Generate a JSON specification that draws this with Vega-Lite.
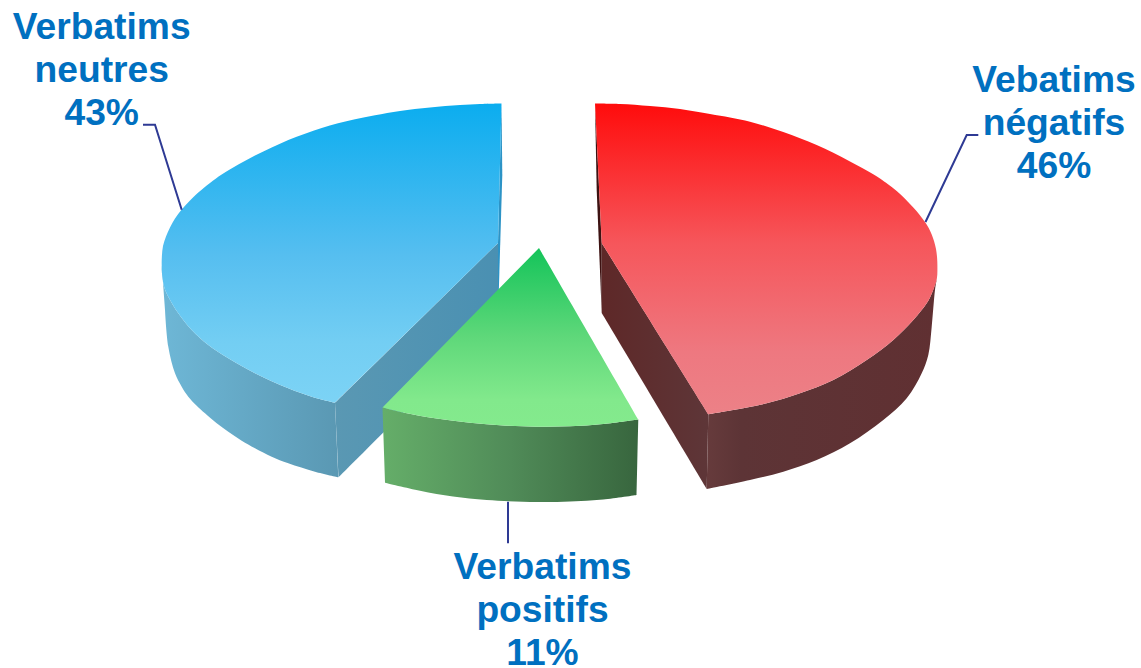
{
  "$schema": "https://vega.github.io/schema/vega-lite/v6.json",
  "width": 1141,
  "height": 668,
  "padding": 0,
  "autosize": {"type": "none"},
  "background": "white",
  "view": {"stroke": null},
  "datasets": {
    "outlines": [
      {"part":"neutres_outer","i":0,"x":161.7,"y":265},{"part":"neutres_outer","i":1,"x":161.7,"y":265},{"part":"neutres_outer","i":2,"x":162.3,"y":276.7},{"part":"neutres_outer","i":3,"x":164.5,"y":288},{"part":"neutres_outer","i":4,"x":168.3,"y":296.7},{"part":"neutres_outer","i":5,"x":178.3,"y":313.3},{"part":"neutres_outer","i":6,"x":191.7,"y":330},{"part":"neutres_outer","i":7,"x":208.3,"y":345},{"part":"neutres_outer","i":8,"x":228.3,"y":358.3},{"part":"neutres_outer","i":9,"x":255,"y":373.3},{"part":"neutres_outer","i":10,"x":288.3,"y":388.3},{"part":"neutres_outer","i":11,"x":311.7,"y":396.7},{"part":"neutres_outer","i":12,"x":335,"y":402.7},{"part":"neutres_outer","i":13,"x":335,"y":402.7},{"part":"neutres_outer","i":14,"x":338.5,"y":477.3},{"part":"neutres_outer","i":15,"x":338.5,"y":477.3},{"part":"neutres_outer","i":16,"x":315,"y":471.7},{"part":"neutres_outer","i":17,"x":288.3,"y":463.3},{"part":"neutres_outer","i":18,"x":271.7,"y":456.7},{"part":"neutres_outer","i":19,"x":255,"y":448.3},{"part":"neutres_outer","i":20,"x":241.7,"y":440.7},{"part":"neutres_outer","i":21,"x":228.3,"y":431.7},{"part":"neutres_outer","i":22,"x":216.7,"y":423.3},{"part":"neutres_outer","i":23,"x":205,"y":413.3},{"part":"neutres_outer","i":24,"x":196.7,"y":405.7},{"part":"neutres_outer","i":25,"x":188.3,"y":396.7},{"part":"neutres_outer","i":26,"x":181.7,"y":386.7},{"part":"neutres_outer","i":27,"x":175,"y":373.3},{"part":"neutres_outer","i":28,"x":168.3,"y":346.7},{"part":"neutres_outer","i":29,"x":165,"y":310},
      {"part":"neutres_inner","i":0,"x":335,"y":402.7},{"part":"neutres_inner","i":1,"x":335,"y":402.7},{"part":"neutres_inner","i":2,"x":498,"y":243},{"part":"neutres_inner","i":3,"x":498,"y":243},{"part":"neutres_inner","i":4,"x":498,"y":318},{"part":"neutres_inner","i":5,"x":498,"y":318},{"part":"neutres_inner","i":6,"x":338.5,"y":477.3},{"part":"neutres_inner","i":7,"x":338.5,"y":477.3},
      {"part":"neutres_back","i":0,"x":501.5,"y":103.5},{"part":"neutres_back","i":1,"x":501.5,"y":103.5},{"part":"neutres_back","i":2,"x":502.3,"y":175},{"part":"neutres_back","i":3,"x":502.3,"y":175},{"part":"neutres_back","i":4,"x":498,"y":318},{"part":"neutres_back","i":5,"x":498,"y":318},{"part":"neutres_back","i":6,"x":498,"y":243},{"part":"neutres_back","i":7,"x":498,"y":243},
      {"part":"neutres_top","i":0,"x":501.5,"y":103.5},{"part":"neutres_top","i":1,"x":501.5,"y":103.5},{"part":"neutres_top","i":2,"x":480,"y":104},{"part":"neutres_top","i":3,"x":460,"y":105},{"part":"neutres_top","i":4,"x":430,"y":107.5},{"part":"neutres_top","i":5,"x":400,"y":111},{"part":"neutres_top","i":6,"x":375,"y":115.3},{"part":"neutres_top","i":7,"x":355,"y":119.3},{"part":"neutres_top","i":8,"x":338,"y":123.3},{"part":"neutres_top","i":9,"x":321.7,"y":128},{"part":"neutres_top","i":10,"x":305,"y":133.7},{"part":"neutres_top","i":11,"x":288.3,"y":140},{"part":"neutres_top","i":12,"x":271.7,"y":147.5},{"part":"neutres_top","i":13,"x":255,"y":155.5},{"part":"neutres_top","i":14,"x":238.3,"y":164.5},{"part":"neutres_top","i":15,"x":221.7,"y":174.5},{"part":"neutres_top","i":16,"x":210,"y":183},{"part":"neutres_top","i":17,"x":198.3,"y":192.5},{"part":"neutres_top","i":18,"x":190,"y":200.5},{"part":"neutres_top","i":19,"x":181.7,"y":209.5},{"part":"neutres_top","i":20,"x":175,"y":218.5},{"part":"neutres_top","i":21,"x":170,"y":227.5},{"part":"neutres_top","i":22,"x":166,"y":236.5},{"part":"neutres_top","i":23,"x":163,"y":246},{"part":"neutres_top","i":24,"x":161.9,"y":256},{"part":"neutres_top","i":25,"x":161.7,"y":265},{"part":"neutres_top","i":26,"x":162.3,"y":276.7},{"part":"neutres_top","i":27,"x":164.5,"y":288},{"part":"neutres_top","i":28,"x":168.3,"y":296.7},{"part":"neutres_top","i":29,"x":178.3,"y":313.3},{"part":"neutres_top","i":30,"x":191.7,"y":330},{"part":"neutres_top","i":31,"x":208.3,"y":345},{"part":"neutres_top","i":32,"x":228.3,"y":358.3},{"part":"neutres_top","i":33,"x":255,"y":373.3},{"part":"neutres_top","i":34,"x":288.3,"y":388.3},{"part":"neutres_top","i":35,"x":311.7,"y":396.7},{"part":"neutres_top","i":36,"x":335,"y":402.7},{"part":"neutres_top","i":37,"x":335,"y":402.7},{"part":"neutres_top","i":38,"x":498,"y":243},{"part":"neutres_top","i":39,"x":498,"y":243},

      {"part":"positifs_side","i":0,"x":382.5,"y":407.5},{"part":"positifs_side","i":1,"x":382.5,"y":407.5},{"part":"positifs_side","i":2,"x":403,"y":412.5},{"part":"positifs_side","i":3,"x":436.7,"y":418.5},{"part":"positifs_side","i":4,"x":470,"y":422.7},{"part":"positifs_side","i":5,"x":503.3,"y":425.5},{"part":"positifs_side","i":6,"x":536.7,"y":426.7},{"part":"positifs_side","i":7,"x":570,"y":426.3},{"part":"positifs_side","i":8,"x":603.3,"y":424},{"part":"positifs_side","i":9,"x":638.3,"y":419.5},{"part":"positifs_side","i":10,"x":638.3,"y":419.5},{"part":"positifs_side","i":11,"x":636.7,"y":495},{"part":"positifs_side","i":12,"x":636.7,"y":495},{"part":"positifs_side","i":13,"x":603.3,"y":499.5},{"part":"positifs_side","i":14,"x":570,"y":501.5},{"part":"positifs_side","i":15,"x":536.7,"y":502},{"part":"positifs_side","i":16,"x":486.7,"y":500},{"part":"positifs_side","i":17,"x":453,"y":496.5},{"part":"positifs_side","i":18,"x":420,"y":490.7},{"part":"positifs_side","i":19,"x":385,"y":482.7},{"part":"positifs_side","i":20,"x":385,"y":482.7},
      {"part":"positifs_top","i":0,"x":539,"y":248},{"part":"positifs_top","i":1,"x":539,"y":248},{"part":"positifs_top","i":2,"x":638.3,"y":419.5},{"part":"positifs_top","i":3,"x":638.3,"y":419.5},{"part":"positifs_top","i":4,"x":603.3,"y":424},{"part":"positifs_top","i":5,"x":570,"y":426.3},{"part":"positifs_top","i":6,"x":536.7,"y":426.7},{"part":"positifs_top","i":7,"x":503.3,"y":425.5},{"part":"positifs_top","i":8,"x":470,"y":422.7},{"part":"positifs_top","i":9,"x":436.7,"y":418.5},{"part":"positifs_top","i":10,"x":403,"y":412.5},{"part":"positifs_top","i":11,"x":382.5,"y":407.5},{"part":"positifs_top","i":12,"x":382.5,"y":407.5},

      {"part":"negatifs_back","i":0,"x":595,"y":103.5},{"part":"negatifs_back","i":1,"x":595,"y":103.5},{"part":"negatifs_back","i":2,"x":601.7,"y":243},{"part":"negatifs_back","i":3,"x":601.7,"y":243},{"part":"negatifs_back","i":4,"x":601.7,"y":313},{"part":"negatifs_back","i":5,"x":601.7,"y":313},{"part":"negatifs_back","i":6,"x":596.7,"y":190},{"part":"negatifs_back","i":7,"x":596.7,"y":190},
      {"part":"negatifs_inner","i":0,"x":601.7,"y":243},{"part":"negatifs_inner","i":1,"x":601.7,"y":243},{"part":"negatifs_inner","i":2,"x":708.3,"y":414.3},{"part":"negatifs_inner","i":3,"x":708.3,"y":414.3},{"part":"negatifs_inner","i":4,"x":706.7,"y":489},{"part":"negatifs_inner","i":5,"x":706.7,"y":489},{"part":"negatifs_inner","i":6,"x":601.7,"y":313},{"part":"negatifs_inner","i":7,"x":601.7,"y":313},
      {"part":"negatifs_outer","i":0,"x":708.3,"y":414.3},{"part":"negatifs_outer","i":1,"x":708.3,"y":414.3},{"part":"negatifs_outer","i":2,"x":733.3,"y":410},{"part":"negatifs_outer","i":3,"x":766.7,"y":403.3},{"part":"negatifs_outer","i":4,"x":800,"y":393.3},{"part":"negatifs_outer","i":5,"x":833.3,"y":380},{"part":"negatifs_outer","i":6,"x":866.7,"y":360},{"part":"negatifs_outer","i":7,"x":893.3,"y":340},{"part":"negatifs_outer","i":8,"x":913.3,"y":320},{"part":"negatifs_outer","i":9,"x":926.7,"y":303.3},{"part":"negatifs_outer","i":10,"x":932,"y":293},{"part":"negatifs_outer","i":11,"x":936.8,"y":279},{"part":"negatifs_outer","i":12,"x":936.8,"y":279},{"part":"negatifs_outer","i":13,"x":935,"y":290},{"part":"negatifs_outer","i":14,"x":931.7,"y":326.7},{"part":"negatifs_outer","i":15,"x":928.3,"y":355},{"part":"negatifs_outer","i":16,"x":921.7,"y":373.3},{"part":"negatifs_outer","i":17,"x":906.7,"y":398.3},{"part":"negatifs_outer","i":18,"x":883.3,"y":420},{"part":"negatifs_outer","i":19,"x":850,"y":443.3},{"part":"negatifs_outer","i":20,"x":816.7,"y":460},{"part":"negatifs_outer","i":21,"x":783.3,"y":471.7},{"part":"negatifs_outer","i":22,"x":750,"y":480},{"part":"negatifs_outer","i":23,"x":706.7,"y":489},{"part":"negatifs_outer","i":24,"x":706.7,"y":489},
      {"part":"negatifs_top","i":0,"x":595,"y":103.5},{"part":"negatifs_top","i":1,"x":595,"y":103.5},{"part":"negatifs_top","i":2,"x":620,"y":104},{"part":"negatifs_top","i":3,"x":650,"y":106},{"part":"negatifs_top","i":4,"x":680,"y":109},{"part":"negatifs_top","i":5,"x":710,"y":114},{"part":"negatifs_top","i":6,"x":730,"y":117.5},{"part":"negatifs_top","i":7,"x":750,"y":121.7},{"part":"negatifs_top","i":8,"x":766.7,"y":126.5},{"part":"negatifs_top","i":9,"x":783.3,"y":132},{"part":"negatifs_top","i":10,"x":800,"y":138.2},{"part":"negatifs_top","i":11,"x":816.7,"y":145},{"part":"negatifs_top","i":12,"x":833.3,"y":152.8},{"part":"negatifs_top","i":13,"x":850,"y":161.5},{"part":"negatifs_top","i":14,"x":866.7,"y":170.5},{"part":"negatifs_top","i":15,"x":880,"y":178.5},{"part":"negatifs_top","i":16,"x":888,"y":184.3},{"part":"negatifs_top","i":17,"x":896.7,"y":191},{"part":"negatifs_top","i":18,"x":905,"y":198.7},{"part":"negatifs_top","i":19,"x":913.3,"y":207.5},{"part":"negatifs_top","i":20,"x":919.5,"y":214.7},{"part":"negatifs_top","i":21,"x":925,"y":222},{"part":"negatifs_top","i":22,"x":928.7,"y":228},{"part":"negatifs_top","i":23,"x":931.7,"y":234.5},{"part":"negatifs_top","i":24,"x":934,"y":241},{"part":"negatifs_top","i":25,"x":936,"y":249},{"part":"negatifs_top","i":26,"x":937.1,"y":258},{"part":"negatifs_top","i":27,"x":937.4,"y":267},{"part":"negatifs_top","i":28,"x":936.8,"y":279},{"part":"negatifs_top","i":29,"x":932,"y":293},{"part":"negatifs_top","i":30,"x":926.7,"y":303.3},{"part":"negatifs_top","i":31,"x":913.3,"y":320},{"part":"negatifs_top","i":32,"x":893.3,"y":340},{"part":"negatifs_top","i":33,"x":866.7,"y":360},{"part":"negatifs_top","i":34,"x":833.3,"y":380},{"part":"negatifs_top","i":35,"x":800,"y":393.3},{"part":"negatifs_top","i":36,"x":766.7,"y":403.3},{"part":"negatifs_top","i":37,"x":733.3,"y":410},{"part":"negatifs_top","i":38,"x":708.3,"y":414.3},{"part":"negatifs_top","i":39,"x":708.3,"y":414.3},{"part":"negatifs_top","i":40,"x":601.7,"y":243},{"part":"negatifs_top","i":41,"x":601.7,"y":243}
    ],
    "leaders": [
      {"slice":"neutres","i":0,"x":143,"y":124.7},{"slice":"neutres","i":1,"x":155,"y":124.7},{"slice":"neutres","i":2,"x":181.7,"y":209.7},
      {"slice":"negatifs","i":0,"x":978.3,"y":135},{"slice":"negatifs","i":1,"x":966.7,"y":135},{"slice":"negatifs","i":2,"x":925.5,"y":222},
      {"slice":"positifs","i":0,"x":508,"y":501.7},{"slice":"positifs","i":1,"x":508,"y":543.3}
    ],
    "labels": [
      {"text":"Verbatims","x":101.7,"y":39.3},{"text":"neutres","x":101.7,"y":81.7},{"text":"43%","x":101.7,"y":125},
      {"text":"Vebatims","x":1054,"y":91.7},{"text":"négatifs","x":1054,"y":135},{"text":"46%","x":1054,"y":178.3},
      {"text":"Verbatims","x":542.5,"y":579.3},{"text":"positifs","x":542.5,"y":621.7},{"text":"11%","x":542.5,"y":664.5}
    ]
  },
  "data": {"name": "outlines"},
  "encoding": {
    "x": {"field": "x", "type": "quantitative", "scale": {"domain": [0, 1141], "nice": false, "zero": false}, "axis": null},
    "y": {"field": "y", "type": "quantitative", "scale": {"domain": [668, 0], "nice": false, "zero": false}, "axis": null},
    "order": {"field": "i", "type": "quantitative"}
  },
  "layer": [
    {"transform": [{"filter": "datum.part === 'neutres_outer'"}],
     "mark": {"type": "line", "interpolate": "catmull-rom", "strokeWidth": 0, "fill": {"gradient": "linear", "x1": 0, "y1": 0, "x2": 1, "y2": 0, "stops": [{"offset": 0, "color": "#6EB7D6"}, {"offset": 1, "color": "#5A98B3"}]}}},
    {"transform": [{"filter": "datum.part === 'neutres_inner'"}],
     "mark": {"type": "line", "interpolate": "catmull-rom", "strokeWidth": 0, "fill": {"gradient": "linear", "x1": 0, "y1": 0, "x2": 1, "y2": 0, "stops": [{"offset": 0, "color": "#5A98B3"}, {"offset": 1, "color": "#4A90B2"}]}}},
    {"transform": [{"filter": "datum.part === 'neutres_back'"}],
     "mark": {"type": "line", "interpolate": "catmull-rom", "strokeWidth": 0, "fill": "#2C93C6"}},
    {"transform": [{"filter": "datum.part === 'neutres_top'"}],
     "mark": {"type": "line", "interpolate": "catmull-rom", "strokeWidth": 0, "fill": {"gradient": "linear", "x1": 0, "y1": 0, "x2": 0, "y2": 1, "stops": [{"offset": 0, "color": "#0BADEF"}, {"offset": 0.5, "color": "#55BEF0"}, {"offset": 0.8, "color": "#73CEF3"}, {"offset": 1, "color": "#7CD3F5"}]}}},
    {"transform": [{"filter": "datum.part === 'positifs_side'"}],
     "mark": {"type": "line", "interpolate": "catmull-rom", "strokeWidth": 0, "fill": {"gradient": "linear", "x1": 0, "y1": 0, "x2": 1, "y2": 0, "stops": [{"offset": 0, "color": "#65AE69"}, {"offset": 0.5, "color": "#508B58"}, {"offset": 1, "color": "#38663E"}]}}},
    {"transform": [{"filter": "datum.part === 'positifs_top'"}],
     "mark": {"type": "line", "interpolate": "catmull-rom", "strokeWidth": 0, "fill": {"gradient": "linear", "x1": 0, "y1": 0, "x2": 0, "y2": 1, "stops": [{"offset": 0, "color": "#14C45A"}, {"offset": 0.5, "color": "#5FD87A"}, {"offset": 0.85, "color": "#82E98C"}, {"offset": 1, "color": "#84EA8D"}]}}},
    {"transform": [{"filter": "datum.part === 'negatifs_back'"}],
     "mark": {"type": "line", "interpolate": "catmull-rom", "strokeWidth": 0, "fill": "#3D1212"}},
    {"transform": [{"filter": "datum.part === 'negatifs_inner'"}],
     "mark": {"type": "line", "interpolate": "catmull-rom", "strokeWidth": 0, "fill": {"gradient": "linear", "x1": 0, "y1": 0, "x2": 1, "y2": 0, "stops": [{"offset": 0, "color": "#5E2828"}, {"offset": 1, "color": "#5E3638"}]}}},
    {"transform": [{"filter": "datum.part === 'negatifs_outer'"}],
     "mark": {"type": "line", "interpolate": "catmull-rom", "strokeWidth": 0, "fill": {"gradient": "linear", "x1": 0, "y1": 0, "x2": 1, "y2": 0, "stops": [{"offset": 0, "color": "#663B3C"}, {"offset": 0.15, "color": "#5D3436"}, {"offset": 1, "color": "#603032"}]}}},
    {"transform": [{"filter": "datum.part === 'negatifs_top'"}],
     "mark": {"type": "line", "interpolate": "catmull-rom", "strokeWidth": 0, "fill": {"gradient": "linear", "x1": 0, "y1": 0, "x2": 0, "y2": 1, "stops": [{"offset": 0, "color": "#FF0C0C"}, {"offset": 0.45, "color": "#F6565B"}, {"offset": 0.8, "color": "#EE7880"}, {"offset": 1, "color": "#EC8187"}]}}},
    {"data": {"name": "leaders"},
     "mark": {"type": "line", "stroke": "#2E3A94", "strokeWidth": 2},
     "encoding": {"detail": {"field": "slice"}}},
    {"data": {"name": "labels"},
     "mark": {"type": "text", "font": "Liberation Sans", "fontWeight": "bold", "fontSize": 37.2, "align": "center", "baseline": "alphabetic", "color": "#0070C0"},
     "encoding": {"text": {"field": "text"}, "order": null}}
  ]
}
